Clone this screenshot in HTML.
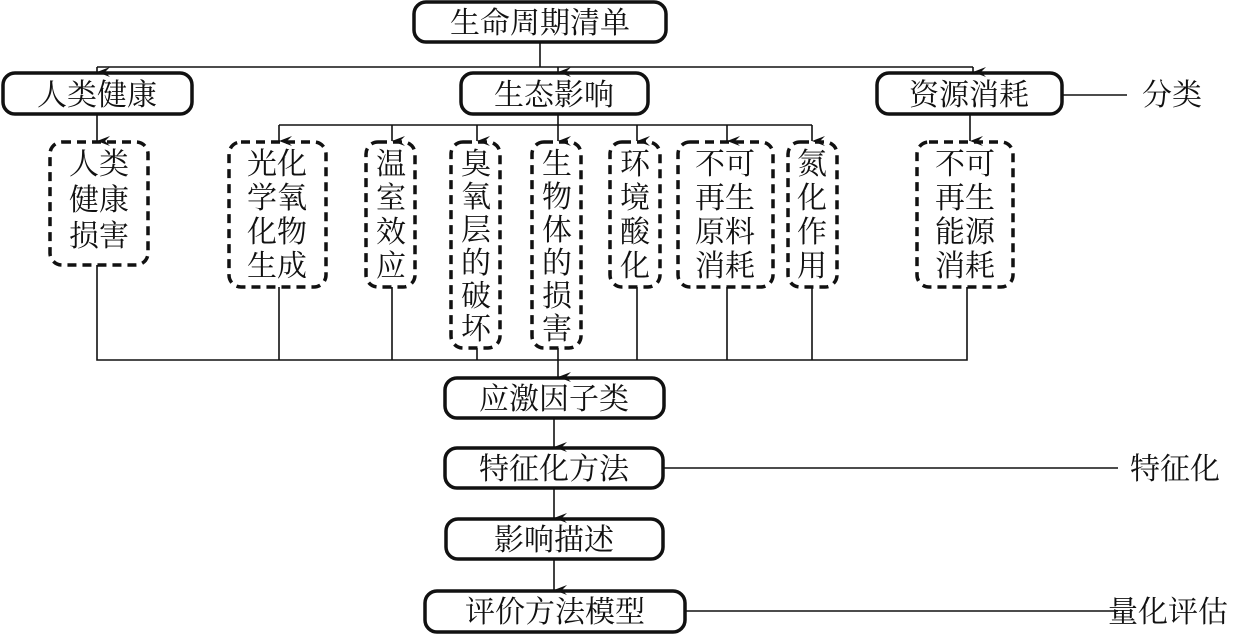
<!DOCTYPE html>
<html><head><meta charset="utf-8"><style>
html,body{margin:0;padding:0;background:#fff;}
svg{display:block;}
text{font-family:"Liberation Serif","Noto Serif CJK SC",serif;fill:#111;}
</style></head><body>
<svg width="1251" height="634" viewBox="0 0 1251 634" xmlns="http://www.w3.org/2000/svg">
<defs>
<marker id="a" markerWidth="10" markerHeight="14" refX="5" refY="13" orient="auto" markerUnits="userSpaceOnUse">
<path d="M0,0 L5,13 L10,0 L5,5 Z" fill="#111"/>
</marker>
</defs>
<g stroke="#111" fill="none">
<!-- solid boxes -->
<g stroke-width="3.5">
<rect x="414" y="2" width="252" height="40" rx="12"/>
<rect x="3" y="73" width="189" height="41" rx="12"/>
<rect x="461" y="73" width="187" height="41" rx="12"/>
<rect x="877" y="73" width="185" height="41" rx="12"/>
<rect x="445" y="378" width="219" height="40" rx="12"/>
<rect x="445" y="448" width="218" height="40" rx="12"/>
<rect x="446" y="519" width="217" height="40" rx="12"/>
<rect x="425" y="591" width="260" height="41" rx="12"/>
</g>
<!-- dashed boxes -->
<g stroke-width="3.5" stroke-dasharray="9,6">
<rect x="50" y="142" width="98" height="123" rx="12"/>
<rect x="229" y="142" width="97" height="145" rx="12"/>
<rect x="366" y="142" width="49" height="145" rx="12"/>
<rect x="451" y="142" width="49" height="206" rx="12"/>
<rect x="532" y="142" width="49" height="206" rx="12"/>
<rect x="610" y="142" width="50" height="145" rx="12"/>
<rect x="678" y="142" width="95" height="145" rx="12"/>
<rect x="788" y="142" width="49" height="145" rx="12"/>
<rect x="917" y="142" width="96" height="145" rx="12"/>
</g>
<!-- connectors -->
<g stroke-width="1.6">
<path d="M97,67 H973"/>
<path d="M540,42 V67"/>
<path d="M97,67 V72" marker-end="url(#a)"/>
<path d="M558,67 V72" marker-end="url(#a)"/>
<path d="M973,67 V72" marker-end="url(#a)"/>
<path d="M97,114 V141" marker-end="url(#a)"/>
<path d="M970,114 V141" marker-end="url(#a)"/>
<path d="M558,114 V125"/>
<path d="M279,125 H812"/>
<path d="M279,125 V141" marker-end="url(#a)"/>
<path d="M392,125 V141" marker-end="url(#a)"/>
<path d="M477,125 V141" marker-end="url(#a)"/>
<path d="M558,125 V141" marker-end="url(#a)"/>
<path d="M637,125 V141" marker-end="url(#a)"/>
<path d="M727,125 V141" marker-end="url(#a)"/>
<path d="M812,125 V141" marker-end="url(#a)"/>
<path d="M1063,95 H1127"/>
<path d="M97,265 V360 H967 V287"/>
<path d="M279,287 V360 M392,287 V360 M477,348 V360 M637,287 V360 M727,287 V360 M812,287 V360"/>
<path d="M558,348 V377" marker-end="url(#a)"/>
<path d="M554,418 V447" marker-end="url(#a)"/>
<path d="M554,488 V518" marker-end="url(#a)"/>
<path d="M554,559 V590" marker-end="url(#a)"/>
<path d="M663,468 H1118"/>
<path d="M685,611 H1118"/>
</g>
</g>
<g font-size="30" text-anchor="middle">
<text x="540" y="33">生命周期清单</text>
<text x="97" y="105">人类健康</text>
<text x="554" y="105">生态影响</text>
<text x="969" y="105">资源消耗</text>
<text x="1172" y="105">分类</text>
<text x="554" y="409">应激因子类</text>
<text x="554" y="479">特征化方法</text>
<text x="554" y="550">影响描述</text>
<text x="555" y="622">评价方法模型</text>
<text x="1175" y="479">特征化</text>
<text x="1168" y="622">量化评估</text>
</g>
<g font-size="30" text-anchor="middle">
<text x="99" y="174">人类</text><text x="99" y="210">健康</text><text x="99" y="246">损害</text>
<text x="277" y="174">光化</text><text x="277" y="208">学氧</text><text x="277" y="242">化物</text><text x="277" y="276">生成</text>
<text x="391" y="174">温</text><text x="391" y="208">室</text><text x="391" y="242">效</text><text x="391" y="276">应</text>
<text x="476" y="174">臭</text><text x="476" y="207">氧</text><text x="476" y="240">层</text><text x="476" y="273">的</text><text x="476" y="306">破</text><text x="476" y="339">坏</text>
<text x="557" y="174">生</text><text x="557" y="207">物</text><text x="557" y="240">体</text><text x="557" y="273">的</text><text x="557" y="306">损</text><text x="557" y="339">害</text>
<text x="635" y="174">环</text><text x="635" y="208">境</text><text x="635" y="242">酸</text><text x="635" y="276">化</text>
<text x="725" y="174">不可</text><text x="725" y="208">再生</text><text x="725" y="242">原料</text><text x="725" y="276">消耗</text>
<text x="812" y="174">氮</text><text x="812" y="208">化</text><text x="812" y="242">作</text><text x="812" y="276">用</text>
<text x="965" y="174">不可</text><text x="965" y="208">再生</text><text x="965" y="242">能源</text><text x="965" y="276">消耗</text>
</g>
</svg>
</body></html>
